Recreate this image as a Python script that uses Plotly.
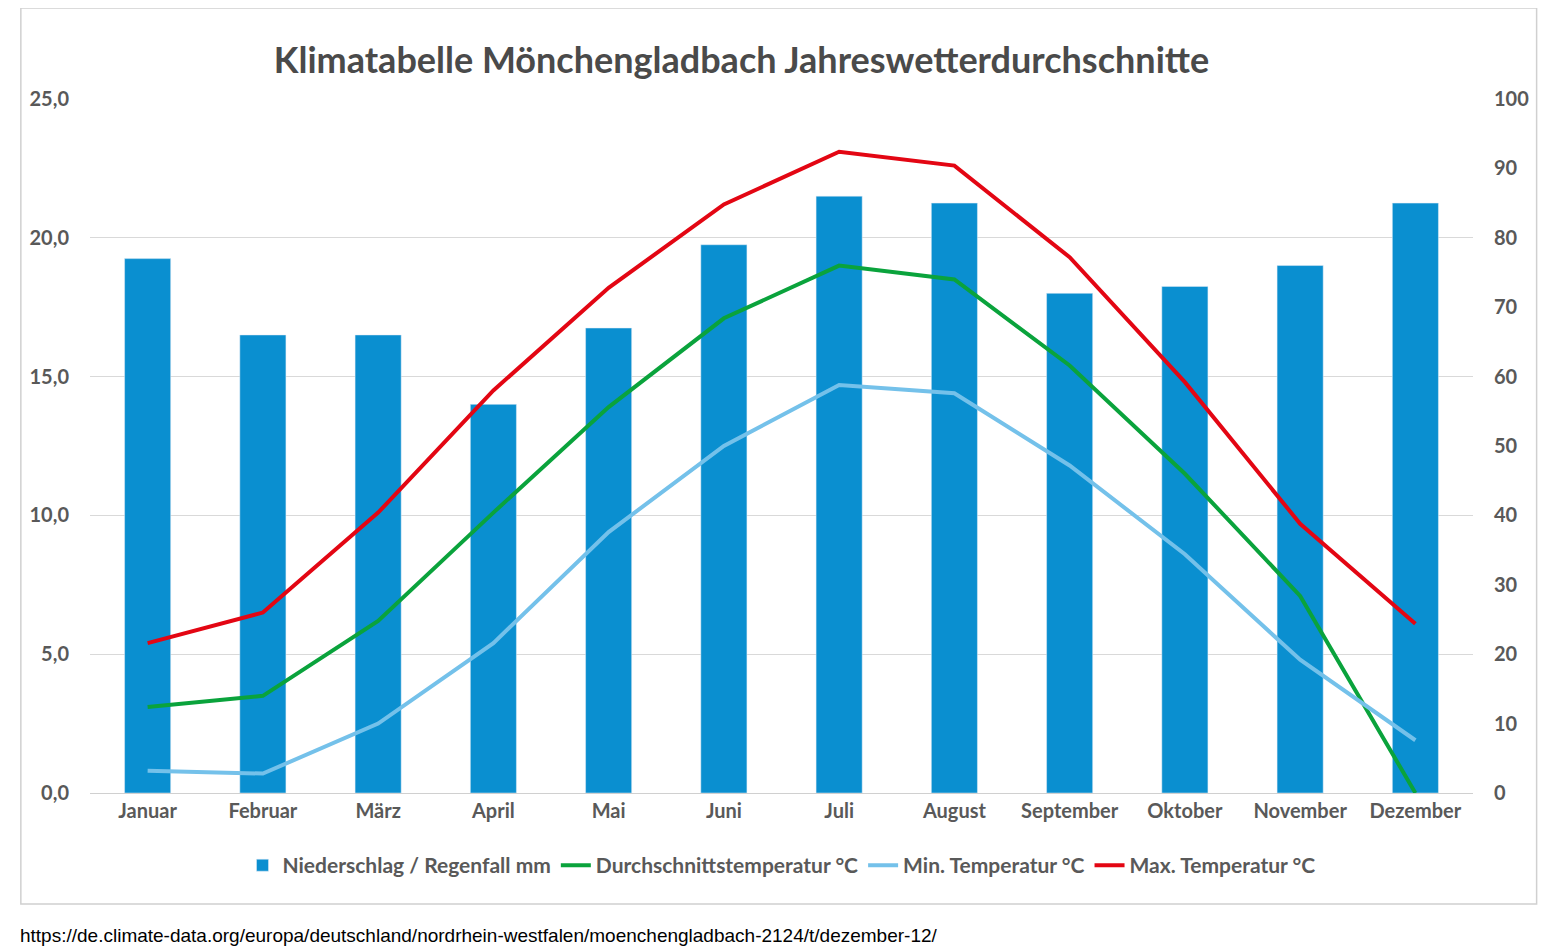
import plotly.graph_objects as go

months = ["Januar", "Februar", "März", "April", "Mai", "Juni", "Juli",
          "August", "September", "Oktober", "November", "Dezember"]
niederschlag = [77, 66, 66, 56, 67, 79, 86, 85, 72, 73, 76, 85]
temp_avg = [3.1, 3.5, 6.2, 10.1, 13.9, 17.1, 19.0, 18.5, 15.4, 11.5, 7.1, 0.0]
temp_min = [0.8, 0.7, 2.5, 5.4, 9.4, 12.5, 14.7, 14.4, 11.8, 8.6, 4.8, 1.9]
temp_max = [5.4, 6.5, 10.1, 14.5, 18.2, 21.2, 23.1, 22.6, 19.3, 14.8, 9.7, 6.1]

grey = "#595959"
tick_font = dict(family="Lato", size=20, color=grey, weight="bold")

fig = go.Figure()
# bars on the primary (right) axis so that the lines on the overlaying axis sit on top
fig.add_trace(go.Bar(x=months, y=niederschlag, name="Niederschlag / Regenfall mm",
                     marker_color="#0a8fd0", yaxis="y", width=0.4))
fig.add_trace(go.Scatter(x=months, y=temp_avg, name="Durchschnittstemperatur °C",
                         mode="lines", line=dict(color="#0aa33c", width=4), yaxis="y2"))
fig.add_trace(go.Scatter(x=months, y=temp_min, name="Min. Temperatur °C",
                         mode="lines", line=dict(color="#74c1ea", width=4), yaxis="y2"))
fig.add_trace(go.Scatter(x=months, y=temp_max, name="Max. Temperatur °C",
                         mode="lines", line=dict(color="#e30613", width=4), yaxis="y2"))

fig.update_layout(
    width=1554, height=949,
    paper_bgcolor="white", plot_bgcolor="white",
    margin=dict(l=82, r=89, t=91, b=164),
    font=dict(family="Lato", size=20, color=grey),
    title=dict(text="<b>Klimatabelle Mönchengladbach Jahreswetterdurchschnitte</b>",
               x=0.472, xanchor="center", y=0.945, yanchor="middle",
               font=dict(family="Lato", size=36, color="#4a4a4a")),
    xaxis=dict(tickfont=tick_font, showline=True, linecolor="#d0d0d0", ticks=""),
    yaxis=dict(range=[0, 100], dtick=10, side="right", showgrid=False, zeroline=False,
               tickfont=tick_font, ticklabelstandoff=20),
    yaxis2=dict(range=[0, 25], dtick=5, tickformat=".1f", overlaying="y", side="left",
                showgrid=True, gridcolor="#d9d9d9", zeroline=False,
                tickfont=tick_font, ticklabelstandoff=20),
    separators=", ",
    legend=dict(orientation="h", x=0.5, xanchor="center", y=-0.075, yanchor="top",
                font=dict(family="Lato", size=21, color=grey, weight="bold"),
                traceorder="normal"),
    shapes=[dict(type="rect", xref="paper", yref="paper", x0=-0.05, x1=1.046,
                 y0=-0.16, y1=1.131, line=dict(color="#d0d0d0", width=1.5))],
    annotations=[dict(text="https://de.climate-data.org/europa/deutschland/nordrhein-westfalen/moenchengladbach-2124/t/dezember-12/",
                      xref="paper", yref="paper", x=-0.052, y=-0.205, xanchor="left",
                      yanchor="middle", showarrow=False,
                      font=dict(family="Liberation Sans", size=19, color="black"))],
)

fig.write_html("out.html")
